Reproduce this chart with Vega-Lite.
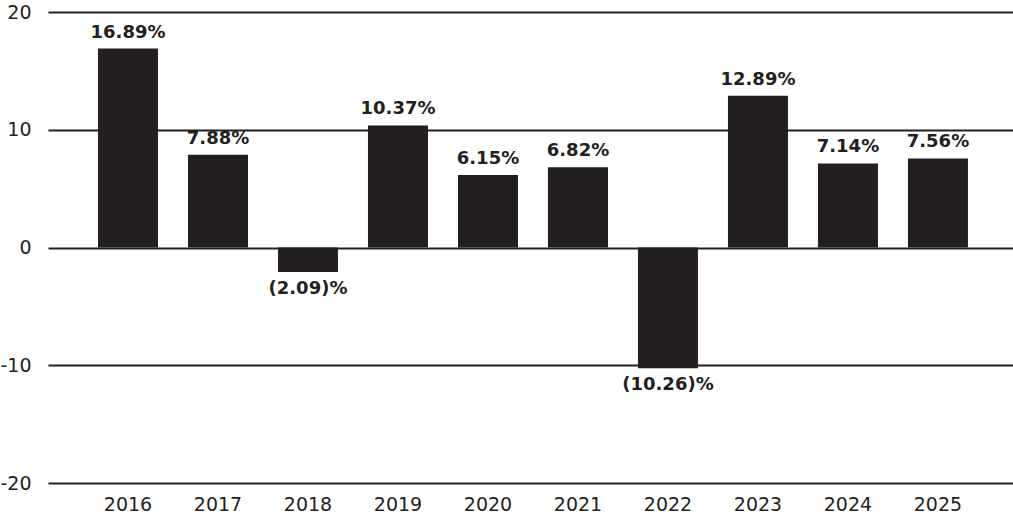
{
  "$schema": "https://vega.github.io/schema/vega-lite/v6.json",
  "width": 965,
  "height": 471,
  "autosize": {"type": "none"},
  "padding": {"left": 48, "top": 12, "right": 0, "bottom": 39},
  "background": "#ffffff",
  "config": {
    "view": {"stroke": null},
    "font": "DejaVu Sans"
  },
  "data": {
    "values": [
      {"year": "2016", "value": 16.89, "label": "16.89%"},
      {"year": "2017", "value": 7.88, "label": "7.88%"},
      {"year": "2018", "value": -2.09, "label": "(2.09)%"},
      {"year": "2019", "value": 10.37, "label": "10.37%"},
      {"year": "2020", "value": 6.15, "label": "6.15%"},
      {"year": "2021", "value": 6.82, "label": "6.82%"},
      {"year": "2022", "value": -10.26, "label": "(10.26)%"},
      {"year": "2023", "value": 12.89, "label": "12.89%"},
      {"year": "2024", "value": 7.14, "label": "7.14%"},
      {"year": "2025", "value": 7.56, "label": "7.56%"}
    ]
  },
  "encoding": {
    "x": {
      "field": "year",
      "type": "ordinal",
      "scale": {"paddingInner": 0.3333, "paddingOuter": 0.528, "align": 0.526},
      "axis": {
        "title": null,
        "domain": false,
        "ticks": false,
        "labelAngle": 0,
        "labelFontSize": 19,
        "labelColor": "#231f20",
        "labelPadding": 12,
        "labelFont": "DejaVu Sans"
      }
    }
  },
  "layer": [
    {
      "mark": {"type": "bar", "color": "#231f20"},
      "encoding": {
        "y": {
          "field": "value",
          "type": "quantitative",
          "scale": {"domain": [-20, 20], "nice": false},
          "axis": {
            "title": null,
            "values": [-20, -10, 0, 10, 20],
            "labelExpr": "datum.value < 0 ? '-' + abs(datum.value) : '' + datum.value",
            "domain": false,
            "ticks": false,
            "grid": true,
            "gridColor": "#231f20",
            "gridWidth": 2,
            "gridOpacity": 1,
            "labelFontSize": 19,
            "labelColor": "#231f20",
            "labelPadding": 17,
            "labelFont": "DejaVu Sans"
          }
        }
      }
    },
    {
      "transform": [{"filter": "datum.value >= 0"}],
      "mark": {"type": "text", "baseline": "bottom", "dy": -7, "fontSize": 18, "fontWeight": "bold", "color": "#231f20", "font": "DejaVu Sans"},
      "encoding": {
        "y": {"field": "value", "type": "quantitative"},
        "text": {"field": "label"}
      }
    },
    {
      "transform": [{"filter": "datum.value < 0"}],
      "mark": {"type": "text", "baseline": "top", "dy": 8, "fontSize": 18, "fontWeight": "bold", "color": "#231f20", "font": "DejaVu Sans"},
      "encoding": {
        "y": {"field": "value", "type": "quantitative"},
        "text": {"field": "label"}
      }
    }
  ]
}
